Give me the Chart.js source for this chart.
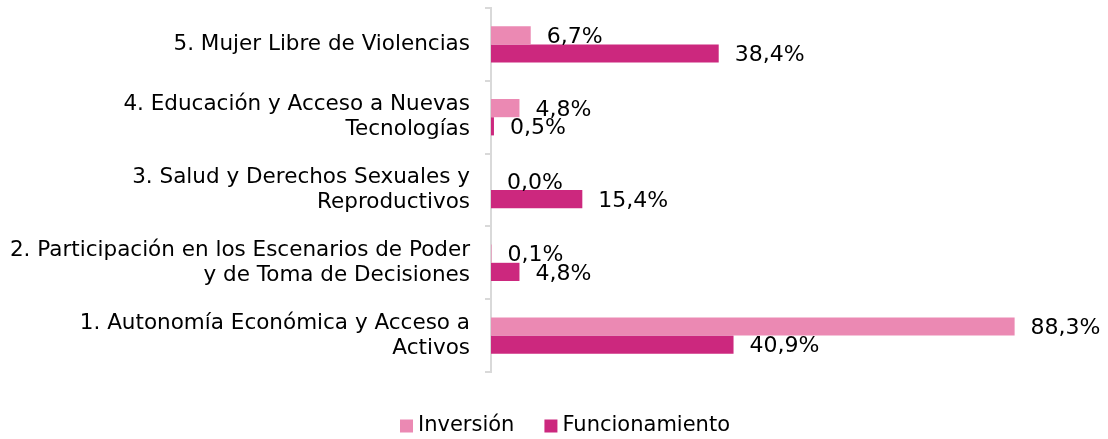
<!DOCTYPE html>
<html>
<head>
<meta charset="utf-8">
<script src="https://cdn.jsdelivr.net/npm/chart.js@4.4.0/dist/chart.umd.min.js"></script>
<style>
  html, body { margin: 0; padding: 0; background: #fff; }
  #wrap { width: 1108px; height: 439px; }
</style>
</head>
<body>
<div id="wrap"><canvas id="chart"></canvas></div>
<script>
const categorias = [
  '5. Mujer Libre de Violencias',
  ['4. Educación y Acceso a Nuevas', 'Tecnologías'],
  ['3. Salud y Derechos Sexuales y', 'Reproductivos'],
  ['2. Participación en los Escenarios de Poder', 'y de Toma de Decisiones'],
  ['1. Autonomía Económica y Acceso a', 'Activos']
]
const inversion = [6.7, 4.8, 0.0, 0.1, 88.3]
const funcionamiento = [38.4, 0.5, 15.4, 4.8, 40.9]

const fuente = "'DejaVu Sans', Verdana, sans-serif"

// etiquetas de valor a la derecha de cada barra
const etiquetas = {
  id: 'etiquetas',
  afterDatasetsDraw(chart) {
    const ctx = chart.ctx
    ctx.save()
    ctx.font = '22px ' + fuente
    ctx.fillStyle = '#000'
    ctx.textBaseline = 'middle'
    ctx.textAlign = 'left'
    chart.data.datasets.forEach((ds, i) => {
      chart.getDatasetMeta(i).data.forEach((bar, j) => {
        const txt = ds.data[j].toFixed(1).replace('.', ',') + '%'
        ctx.fillText(txt, bar.x + 16, bar.y + 2)
      })
    })
    ctx.restore()
  }
}

// leyenda abajo, cuadrito pegado al texto
const leyenda = {
  id: 'leyenda',
  afterDraw(chart) {
    const ctx = chart.ctx
    const caja = 13, sep = 5, hueco = 30
    ctx.save()
    ctx.font = '21px ' + fuente
    ctx.textBaseline = 'middle'
    ctx.textAlign = 'left'
    const items = chart.data.datasets.map(ds => ({ txt: ds.label, color: ds.backgroundColor, w: ctx.measureText(ds.label).width }))
    const total = items.reduce((s, it) => s + caja + sep + it.w, 0) + hueco * (items.length - 1)
    let x = chart.width / 2 + 11 - total / 2
    const y = chart.height - 13
    items.forEach(it => {
      ctx.fillStyle = it.color
      ctx.fillRect(x, y - caja / 2, caja, caja)
      ctx.fillStyle = '#000'
      ctx.fillText(it.txt, x + caja + sep, y)
      x += caja + sep + it.w + hueco
    })
    ctx.restore()
  }
}

new Chart(document.getElementById('chart'), {
  type: 'bar',
  data: {
    labels: categorias,
    datasets: [
      { label: 'Inversión', data: inversion, backgroundColor: '#EB89B3' },
      { label: 'Funcionamiento', data: funcionamiento, backgroundColor: '#CC287E' }
    ]
  },
  options: {
    indexAxis: 'y',
    responsive: true,
    maintainAspectRatio: false,
    animation: false,
    categoryPercentage: 0.5,
    barPercentage: 1.0,
    layout: { padding: { top: 8, right: 24, bottom: 67, left: 0 } },
    scales: {
      x: { display: false, min: 0, max: 100 },
      y: {
        border: { color: '#D9D9D9', width: 2 },
        grid: { drawOnChartArea: false, color: '#D9D9D9', tickLength: 6, lineWidth: 2 },
        ticks: { color: '#000', font: { family: fuente, size: 21.5, lineHeight: 1.17 }, padding: 15 },
        afterFit(scale) {
          scale.width = 491
          scale.paddingTop = 0
          scale.paddingBottom = 0
        }
      }
    },
    plugins: {
      legend: { display: false },
      tooltip: { enabled: false }
    }
  },
  plugins: [etiquetas, leyenda]
})
</script>
</body>
</html>
